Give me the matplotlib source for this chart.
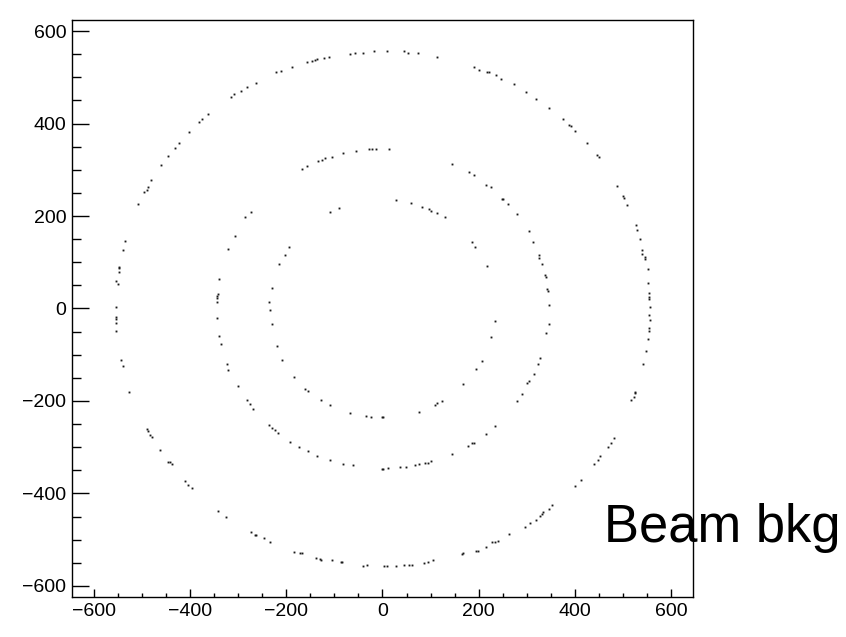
import numpy as np
import matplotlib.pyplot as plt
from matplotlib.ticker import MultipleLocator

plt.rcParams['font.family'] = ['Liberation Sans', 'DejaVu Sans']

# hit positions, one list pair per ring
outer_x = [-363, -374, -382, -402, -422, -430, -445, -461, -480, -488, -490, -496, -507,
           -314, -309, -293, -282, -262, -222, -211, -187, -156, -146, -141, -135, -121, -112,
           -67, -58, -40, -17, 9,
           44, 54, 73, 114, 190, 201, 217, 221, 236, 247, 274, 298, 318,
           345, 374, 388, 391, 399, 424, 445, 450, 488, 499, 502, 507,
           526, 529, 534, 540, 540, 546, 546, 551, 551, 553, 553, 553, 556, 553, 556, 553, 553,
           551, 548, 542, 524, 524, 522, 517,
           480, 474, 468, 451, 447, 440, 413, 399, 352, 345, 334,
           331, 327, 318, 307, 296, 263, 239, 233, 228, 215, 198, 194, 168, 166, 104, 94, 86,
           62, 55, 44, 28,
           9, 4, -32, -40, -87, -85, -105, -130, -128, -138, -168, -171, -184, -233, -247,
           -262, -265, -274,
           -325, -341, -395, -403, -411, -438, -442, -445, -463, -479, -482, -488, -490,
           -526, -540, -544, -553, -553, -553, -553, -553, -550, -553, -547, -547, -547, -539, -534]
outer_y = [420, 410, 404, 382, 358, 348, 330, 310, 279, 263, 257, 251, 226,
           457, 463, 471, 480, 488, 511, 513, 522, 534, 536, 537, 540, 542, 544,
           551, 553, 553, 556, 557,
           556, 553, 553, 544, 522, 516, 511, 511, 505, 497, 486, 469, 454,
           434, 410, 397, 395, 384, 358, 333, 328, 265, 243, 238, 223,
           180, 169, 150, 127, 118, 111, 106, 85, 56, 33, 25, 20, 3, -14, -25, -42, -49,
           -65, -93, -119, -180, -183, -192, -197,
           -281, -290, -300, -320, -328, -337, -370, -385, -426, -433, -441,
           -445, -448, -458, -463, -472, -488, -502, -504, -506, -515, -524, -524, -528, -530,
           -544, -548, -550, -554, -554, -554, -557,
           -556, -556, -554, -556, -548, -548, -545, -542, -544, -540, -528, -528, -526, -506,
           -497, -489, -489, -483,
           -452, -438, -388, -382, -373, -336, -333, -332, -305, -277, -274, -265, -260,
           -180, -124, -111, -49, -31, -22, -19, 3, 52, 60, 79, 87, 89, 127, 147]

middle_x = [-168, -157, -133, -125, -119, -105, -81, -54, -29, -22, -13,
            14, 144, 179, 190, 215, 226, 249, 251, 260, 280,
            304, 312, 326, 326, 331,
            337, 339, 342, 344, 345, 345, 339,
            328, 323, 315, 305, 301, 290, 280,
            234, 215, 190, 185, 177, 144, 101, 94, 88, 76, 68, 49, 37, 12,
            2, -2, -62, -83, -108, -135, -154, -173, -192, -217, -224, -230, -235,
            -268, -276, -281, -301,
            -320, -322, -336, -339, -344, -343, -343, -343, -341, -339, -320,
            -306, -285, -274]
middle_y = [302, 308, 319, 322, 325, 328, 336, 341, 345, 345, 345,
            344, 313, 296, 288, 268, 263, 237, 237, 226, 204,
            167, 144, 116, 110, 96,
            73, 68, 42, 38, 8, -34, -54,
            -107, -119, -142, -157, -161, -185, -200,
            -254, -271, -290, -291, -297, -314, -330, -334, -334, -336, -339, -342, -342, -344,
            -348, -348, -339, -336, -328, -320, -308, -300, -289, -269, -263, -258, -252,
            -217, -207, -197, -167,
            -133, -119, -76, -59, -20, 14, 22, 28, 32, 63, 129,
            157, 197, 209]

inner_x = [-109, -91,
           28, 60, 82, 96, 101, 114,
           130, 185, 193, 218, 233, 226, 206, 195, 168, 123, 114, 110,
           76,
           -2, 2, -23, -35, -67,
           -108, -127, -154, -160, -184, -208, -219, -230, -233, -235, -230, -214, -203, -195]
inner_y = [209, 217,
           234, 228, 220, 215, 211, 206,
           197, 144, 132, 93, -26, -62, -113, -131, -164, -200, -205, -208,
           -223,
           -235, -235, -235, -233, -226,
           -209, -197, -178, -175, -148, -111, -81, -34, -3, 14, 45, 96, 116, 132]

ticks = [-600, -400, -200, 0, 200, 400, 600]

fig = plt.figure(figsize=(8.46, 6.37), dpi=100)
ax = fig.add_axes([0.0851, 0.0628, 0.7340, 0.9058])

for xs, ys in [(outer_x, outer_y), (middle_x, middle_y), (inner_x, inner_y)]:
    ax.plot(xs, ys, 's', markersize=1.35, color='#1a1a1a', markeredgewidth=0)

ax.set_xlim(-645, 645)
ax.set_ylim(-624, 624)
ax.set_xticks(ticks)
ax.set_yticks(ticks)
ax.xaxis.set_minor_locator(MultipleLocator(50))
ax.yaxis.set_minor_locator(MultipleLocator(50))

for s in ax.spines.values():
    s.set_linewidth(1.0)

ax.tick_params(axis='both', which='both', direction='in', labelsize=14, width=1.0)
ax.tick_params(axis='y', which='major', length=12.5, pad=4)
ax.tick_params(axis='y', which='minor', length=6.5)
ax.tick_params(axis='x', which='major', length=6, pad=4)
ax.tick_params(axis='x', which='minor', length=3)

fig.text(604 / 846, (637 - 542) / 637, 'Beam bkg', fontsize=37.8, va='baseline', ha='left')

fig.savefig('out.png', dpi=100)
